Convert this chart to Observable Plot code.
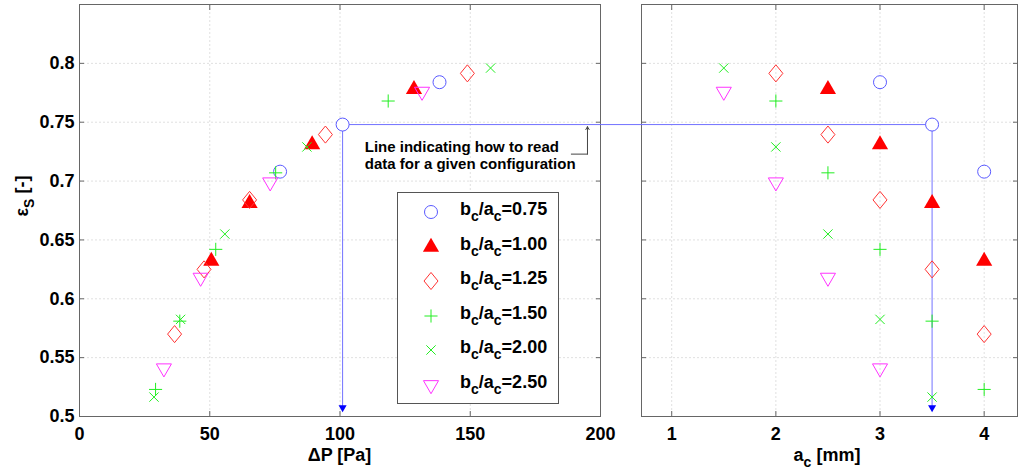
<!DOCTYPE html>
<html>
<head>
<meta charset="utf-8">
<script src="https://cdn.jsdelivr.net/npm/d3@7"></script>
<script src="https://cdn.jsdelivr.net/npm/@observablehq/plot@0.6"></script>
<style>
  body { margin: 0; background: #fff; }
  #chart { position: relative; width: 1024px; height: 476px; font-family: "Liberation Sans", Arial, sans-serif; font-weight: bold; color: #000; }
  #chart > svg { position: absolute; top: 0; overflow: visible; }
  .lbl { position: absolute; font-size: 18px; line-height: 22px; white-space: nowrap; }
  .lbl sub, .legend sub { font-size: 14px; vertical-align: -6px; line-height: 0; }
  .legend { position: absolute; left: 397px; top: 192px; width: 160px; height: 210px; border: 1px solid #555; background: #fff; }
  .legend .row { position: absolute; left: 0; width: 160px; height: 34px; }
  .legend svg { position: absolute; left: 19px; top: 3px; }
  .legend span { position: absolute; left: 62px; top: 3px; font-size: 18px; line-height: 22px; white-space: nowrap; }
</style>
</head>
<body>
<div id="chart"></div>
<script>
// b_c/a_c series: a_c [mm], pressure drop dP [Pa], effectiveness eps_S [-]
const ratioLabels = ["0.75", "1.00", "1.25", "1.50", "2.00", "2.50"];

const ac075 = [3, 3.5, 4];
const dp075 = [138.2, 101, 77];
const eps075 = [0.784, 0.748, 0.708];

const ac100 = [2.5, 3, 3.5, 4];
const dp100 = [128.4, 89.3, 65.3, 50.6];
const eps100 = [0.778, 0.731, 0.681, 0.632];

const ac125 = [2, 2.5, 3, 3.5, 4];
const dp125 = [148.9, 94.4, 65.3, 47.8, 36.5];
const eps125 = [0.7915, 0.7395, 0.684, 0.625, 0.570];

const ac150 = [2, 2.5, 3, 3.5, 4];
const dp150 = [118.5, 75.3, 52.3, 38.5, 29.2];
const eps150 = [0.768, 0.707, 0.642, 0.581, 0.523];

const ac200 = [1.5, 2, 2.5, 3, 3.5];
const dp200 = [157.8, 87.3, 55.8, 38.8, 28.6];
const eps200 = [0.796, 0.729, 0.655, 0.5825, 0.5165];

const ac250 = [1.5, 2, 2.5, 3];
const dp250 = [131.5, 73.2, 46.5, 32.4];
const eps250 = [0.776, 0.699, 0.618, 0.541];

const dpTicks = [0, 50, 100, 150, 200];
const acTicks = [1, 2, 3, 4];
const epsTicks = [0.5, 0.55, 0.6, 0.65, 0.7, 0.75, 0.8];

const dpDomain = [0, 200];
const acDomain = [0.71, 4.32];
const epsDomain = [0.5, 0.85];

// the configuration used to show how to read the chart (b_c/a_c=0.75, a_c=3.5)
const readSeries = "0.75", readIdx = 1;
const arrowY = 0.5076;
const noteText = "Line indicating how to read\ndata for a given configuration";
const note = {x: 109.5, y: 0.7355};
const leader = [[188.8, 0.7229], [195, 0.7229]];
const leaderTop = 0.7462;

const seriesData = {
  "0.75": [ac075, dp075, eps075],
  "1.00": [ac100, dp100, eps100],
  "1.25": [ac125, dp125, eps125],
  "1.50": [ac150, dp150, eps150],
  "2.00": [ac200, dp200, eps200],
  "2.50": [ac250, dp250, eps250]
};

const rows = ratioLabels.flatMap(ratio => {
  const [ac, dp, eps] = seriesData[ratio];
  return ac.map((a, i) => ({ratio, ac: a, dp: dp[i], eps: eps[i]}));
});

// marker shapes
const sqrt3 = Math.sqrt(3);
const triangleDown = {
  draw(ctx, size) {
    const y = Math.sqrt(size / (sqrt3 * 3));
    ctx.moveTo(0, 2 * y);
    ctx.lineTo(sqrt3 * y, -y);
    ctx.lineTo(-sqrt3 * y, -y);
    ctx.closePath();
  }
};
const diamondTall = {
  draw(ctx, size) {
    const r = Math.sqrt(size / Math.PI);
    ctx.moveTo(0, -1.22 * r);
    ctx.lineTo(r, 0);
    ctx.lineTo(0, 1.22 * r);
    ctx.lineTo(-r, 0);
    ctx.closePath();
  }
};

const styles = {
  "0.75": {symbol: d3.symbolCircle, r: 6.5, fill: "#fff", stroke: "#5a5aff"},
  "1.00": {symbol: d3.symbolTriangle, r: 6, fill: "#ff0000", stroke: "none"},
  "1.25": {symbol: diamondTall, r: 7, fill: "none", stroke: "#ff3333"},
  "1.50": {symbol: d3.symbolPlus, r: 4.3, fill: "none", stroke: "#22ee22"},
  "2.00": {symbol: d3.symbolTimes, r: 4.3, fill: "none", stroke: "#22ee22"},
  "2.50": {symbol: triangleDown, r: 5.6, fill: "none", stroke: "#ff33ff"}
};

const W = 1024, H = 476;
const frameTop = 4, frameBottom = 416;
const leftL = 79, leftR = 600, rightL = 641, rightR = 1017;
const axisColor = "#666";
const gridStyle = {stroke: "#e0e0e0", strokeOpacity: 1, strokeDasharray: "2,2"};
const lineColor = "#7272ff";
const fmt = d => String(+d.toFixed(2));

const dotMarks = (xKey) => ratioLabels.map(ratio => {
  const st = styles[ratio];
  return Plot.dot(rows.filter(d => d.ratio === ratio), {
    x: xKey, y: "eps", symbol: st.symbol, r: st.r,
    fill: st.fill, stroke: st.stroke, strokeWidth: 1
  });
});

const readPoint = rows.filter(d => d.ratio === readSeries)[readIdx];
// dP value at the left edge of the right panel, so the reading line crosses the gap
const dpAtGap = dpDomain[1] + (rightL - leftR) * (dpDomain[1] - dpDomain[0]) / (leftR - leftL);

const plotStyle = {fontFamily: "'Liberation Sans', Arial, sans-serif", fontSize: "18px", fontWeight: "bold", color: "#000", background: "transparent", overflow: "visible"};

const left = Plot.plot({
  width: rightL, height: H,
  marginLeft: leftL, marginRight: rightL - leftR, marginTop: frameTop, marginBottom: H - frameBottom,
  style: plotStyle,
  x: {domain: dpDomain, ticks: dpTicks, label: null},
  y: {domain: epsDomain, ticks: epsTicks, label: null},
  marks: [
    Plot.gridX(dpTicks, gridStyle),
    Plot.gridY(epsTicks, gridStyle),
    Plot.axisX({ticks: dpTicks, anchor: "bottom", tickSize: -5, tickPadding: 15.5, stroke: axisColor, label: null}),
    Plot.axisX({ticks: dpTicks, anchor: "top", tickSize: -5, tickFormat: () => "", stroke: axisColor, label: null}),
    Plot.axisY({ticks: epsTicks, anchor: "left", tickSize: -5, tickPadding: 10, tickFormat: fmt, stroke: axisColor, label: null}),
    Plot.axisY({ticks: epsTicks, anchor: "right", tickSize: -5, tickFormat: () => "", stroke: axisColor, label: null}),
    Plot.frame({stroke: axisColor}),
    Plot.ruleY([readPoint], {y: "eps", x1: "dp", x2: () => dpAtGap, stroke: lineColor}),
    Plot.ruleX([readPoint], {x: "dp", y1: "eps", y2: () => arrowY, stroke: lineColor}),
    Plot.dot([readPoint], {x: "dp", y: () => arrowY, symbol: triangleDown, r: 3, fill: "#0000ff"}),
    ...dotMarks("dp"),
    Plot.text([noteText], {x: () => note.x, y: () => note.y, text: d => d, textAnchor: "start", lineAnchor: "top", lineHeight: 1.15, fontSize: 15, fontWeight: "bold"}),
    Plot.line(leader, {stroke: "#444", strokeWidth: 1}),
    Plot.arrow([leader[1]], {x1: d => d[0], y1: d => d[1], x2: d => d[0], y2: () => leaderTop, stroke: "#444", strokeWidth: 1, headLength: 5})
  ]
});
left.style.left = "0px";

const right = Plot.plot({
  width: W - rightL + 1, height: H,
  marginLeft: 1, marginRight: W - rightR, marginTop: frameTop, marginBottom: H - frameBottom,
  style: plotStyle,
  x: {domain: acDomain, ticks: acTicks, label: null},
  y: {domain: epsDomain, ticks: epsTicks, label: null},
  marks: [
    Plot.gridX(acTicks, gridStyle),
    Plot.gridY(epsTicks, gridStyle),
    Plot.axisX({ticks: acTicks, anchor: "bottom", tickSize: -5, tickPadding: 15.5, tickFormat: fmt, stroke: axisColor, label: null}),
    Plot.axisX({ticks: acTicks, anchor: "top", tickSize: -5, tickFormat: () => "", stroke: axisColor, label: null}),
    Plot.axisY({ticks: epsTicks, anchor: "left", tickSize: -5, tickFormat: () => "", stroke: axisColor, label: null}),
    Plot.axisY({ticks: epsTicks, anchor: "right", tickSize: -5, tickFormat: () => "", stroke: axisColor, label: null}),
    Plot.frame({stroke: axisColor}),
    Plot.ruleY([readPoint], {y: "eps", x1: () => acDomain[0], x2: "ac", stroke: lineColor}),
    Plot.ruleX([readPoint], {x: "ac", y1: "eps", y2: () => arrowY, stroke: lineColor}),
    Plot.dot([readPoint], {x: "ac", y: () => arrowY, symbol: triangleDown, r: 3, fill: "#0000ff"}),
    ...dotMarks("ac")
  ]
});
right.style.left = (rightL - 1) + "px";

const chart = d3.select("#chart");
chart.append(() => left);
chart.append(() => right);

// axis titles
chart.append("div").attr("class", "lbl")
  .style("left", (leftL + leftR) / 2 + "px").style("top", "444px").style("transform", "translateX(-50%)")
  .html("&Delta;P [Pa]");
chart.append("div").attr("class", "lbl")
  .style("left", "827px").style("top", "444px").style("transform", "translateX(-50%)")
  .html("a<sub>c</sub> [mm]");
chart.append("div").attr("class", "lbl")
  .style("left", "22px").style("top", "196px").style("transform", "translate(-50%, -50%) rotate(-90deg)")
  .html("&epsilon;<sub>S</sub> [-]");

// legend
const legend = chart.append("div").attr("class", "legend");
ratioLabels.forEach((ratio, i) => {
  const st = styles[ratio];
  const row = legend.append("div").attr("class", "row").style("top", (2 + i * 34.5) + "px");
  row.append("svg").attr("width", 28).attr("height", 28).attr("viewBox", "-14 -14 28 28")
    .append("path")
    .attr("d", d3.symbol(st.symbol, Math.PI * st.r * st.r)())
    .attr("fill", st.fill === "#fff" ? "none" : st.fill)
    .attr("stroke", st.stroke);
  row.append("span").html(`b<sub>c</sub>/a<sub>c</sub>=${ratio}`);
});
</script>
</body>
</html>
